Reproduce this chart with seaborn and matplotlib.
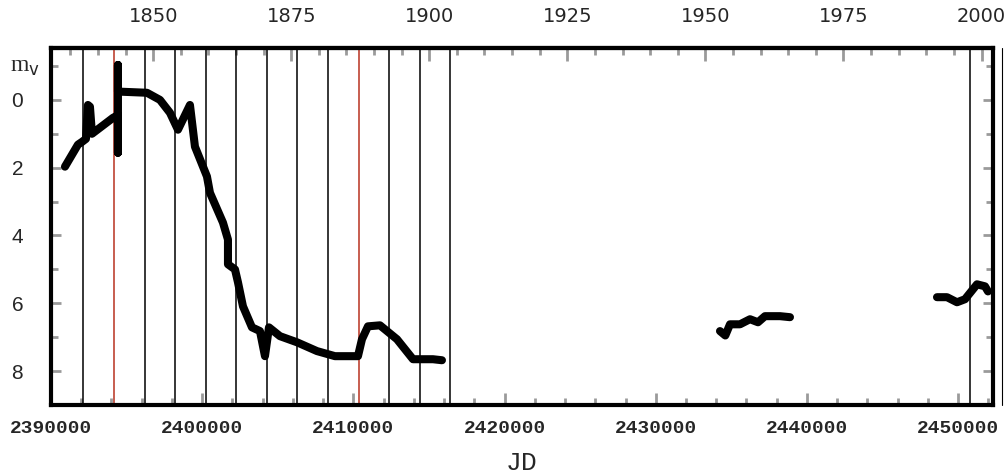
import numpy as np
import pandas as pd
import seaborn as sns
import matplotlib.pyplot as plt
from matplotlib.ticker import MultipleLocator, FixedLocator
from matplotlib.lines import Line2D

# Curva de luz (JD, magnitud visual)
jd_1 = [2390926, 2391786, 2392050, 2392315, 2392447, 2392579, 2392712, 2394101,
        2394431, 2394431, 2394431, 2394431, 2394696, 2396349, 2397209, 2397871,
        2398400, 2399193, 2399524, 2400318, 2400516, 2401376, 2401707, 2401707,
        2402170, 2402368, 2402699, 2403294, 2403823, 2404154, 2404419, 2405146,
        2406270, 2407593, 2408784, 2410305, 2410570, 2410966, 2411760, 2412884,
        2413943, 2414604, 2415265, 2415860]
mag_1 = [1.97, 1.32, 1.24, 1.15, 0.15, 0.2, 1.0, 0.53,
         0.45, 1.56, -1.03, -0.24, -0.24, -0.21, 0.0, 0.38,
         0.88, 0.15, 1.38, 2.26, 2.74, 3.62, 4.12, 4.85,
         5.0, 5.38, 6.09, 6.71, 6.82, 7.56, 6.71, 6.97,
         7.15, 7.41, 7.56, 7.56, 7.06, 6.68, 6.65, 7.06,
         7.65, 7.65, 7.65, 7.68]
jd_2 = [2434248, 2434600, 2434910, 2435571, 2436232, 2436761, 2437224, 2438216, 2438877]
mag_2 = [6.82, 6.95, 6.62, 6.62, 6.47, 6.56, 6.38, 6.38, 6.41]
jd_3 = [2448600, 2449262, 2449923, 2450452, 2451246, 2451775, 2451973]
mag_3 = [5.82, 5.82, 5.97, 5.88, 5.44, 5.5, 5.65]

# Lineas verticales (periastros), las rojas aparte
lineas_negras = [2392142, 2396187, 2398210, 2400233, 2402255, 2404278, 2406301,
                 2408323, 2412369, 2414391, 2416414, 2450800]
lineas_rojas = [2394164, 2410346]

anios = [1850, 1875, 1900, 1925, 1950, 1975, 2000]

df = pd.concat([
    pd.DataFrame({'JD': jd_1, 'mag': mag_1, 'tramo': 1}),
    pd.DataFrame({'JD': jd_2, 'mag': mag_2, 'tramo': 2}),
    pd.DataFrame({'JD': jd_3, 'mag': mag_3, 'tramo': 3}),
])

sns.set_style('white')
fig = plt.figure(figsize=(10.05, 4.74), dpi=100)
ax = fig.add_axes([0.0507, 0.1456, 0.9373, 0.7531])

for x in lineas_negras:
    ax.axvline(x, color='black', lw=1.1, zorder=1)
for x in lineas_rojas:
    ax.axvline(x, color='#b8321f', lw=1.1, zorder=1)

sns.lineplot(data=df, x='JD', y='mag', units='tramo', estimator=None, sort=False,
             color='black', lw=5.8, solid_capstyle='round', solid_joinstyle='round',
             ax=ax, zorder=3)

ax.set_xlim(2390000, 2452300)
ax.set_ylim(9.0, -1.53)

for s in ax.spines.values():
    s.set_linewidth(3)
    s.set_color('black')

# Eje inferior en JD
ax.xaxis.set_major_locator(MultipleLocator(10000))
ax.xaxis.set_minor_locator(MultipleLocator(2000))
ax.xaxis.set_major_formatter(lambda v, p: f'{int(v)}')
ax.tick_params(axis='x', which='both', direction='in', color='#9a9a9a', width=2,
               top=False, bottom=True)
ax.tick_params(axis='x', which='major', length=9, pad=11)
ax.tick_params(axis='x', which='minor', length=5)
for t in ax.get_xticklabels():
    t.set_fontfamily('Liberation Mono')
    t.set_fontsize(14)
    t.set_fontweight('bold')
ax.set_xlabel('JD', fontfamily='Liberation Mono', fontsize=19, labelpad=10)

# Eje izquierdo en magnitudes
ax.yaxis.set_major_locator(FixedLocator([0, 2, 4, 6, 8]))
ax.yaxis.set_minor_locator(FixedLocator([-1, 1, 3, 5, 7]))
ax.tick_params(axis='y', which='both', direction='in', color='#9a9a9a', width=2,
               left=True, right=True)
ax.tick_params(axis='y', which='major', length=7, pad=20, labelsize=15)
ax.tick_params(axis='y', which='minor', length=5)
for t in ax.get_yticklabels():
    t.set_fontfamily('Liberation Sans')
ax.set_ylabel('')
fig.text(0.010, 0.858, r'm$_\mathrm{v}$', fontsize=17, fontfamily='Liberation Serif',
         ha='left', va='center')

# Eje superior en anios
def jd_a_anio(jd):
    return 2000 + (np.asarray(jd) - 2451545.0) / 365.25

def anio_a_jd(a):
    return 2451545.0 + (np.asarray(a) - 2000) * 365.25

sec = ax.secondary_xaxis('top', functions=(jd_a_anio, anio_a_jd))
sec.xaxis.set_major_locator(FixedLocator(anios))
sec.xaxis.set_minor_locator(MultipleLocator(5))
sec.tick_params(which='both', direction='in', color='#9a9a9a', width=2)
sec.tick_params(which='major', length=9, pad=16, labelsize=14)
sec.tick_params(which='minor', length=5)
sec.spines['top'].set_linewidth(3)

# marco fino exterior a la derecha
fig.add_artist(Line2D([0.9975, 0.9975], [0.1456, 0.8987], color='black', lw=0.8,
                      transform=fig.transFigure))

fig.savefig('out.png', dpi=100)
